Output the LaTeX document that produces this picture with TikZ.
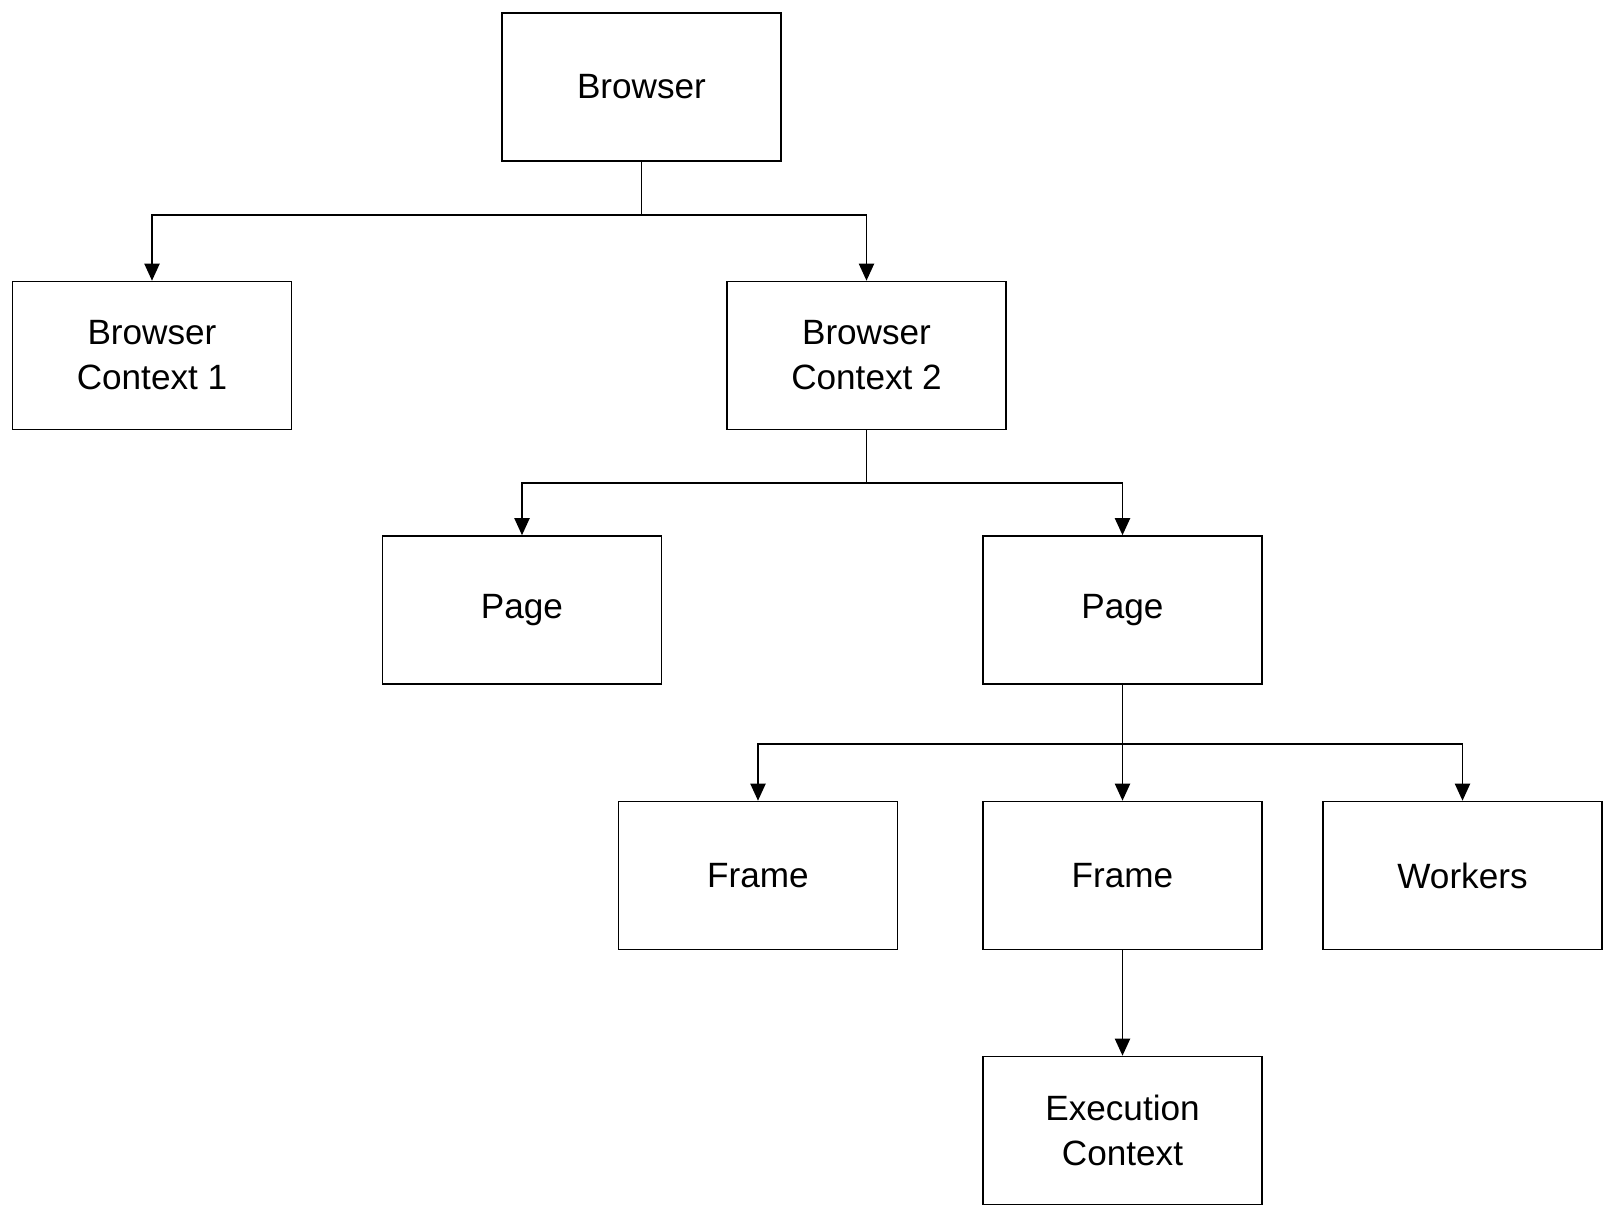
\documentclass[tikz,border=0pt]{standalone}
\usepackage{fontspec}
\setmainfont{Liberation Sans}
\usetikzlibrary{arrows.meta,positioning,calc}
\tikzset{box/.style={draw,line width=0.45pt,align=center,font=\fontsize{10}{12.8}\selectfont,minimum width=2.79cm,minimum height=1.48cm,inner sep=0pt},flow/.style={-{Triangle[width=1.5mm,length=1.7mm]},line width=0.55pt}}

\begin{document}
\begin{tikzpicture}
\useasboundingbox (0,0) rectangle (16.16,-12.23);
\foreach \n/\xx/\yy/\txt in {browser/6.415/-0.87/Browser,ctxa/1.52/-3.555/Browser\\Context 1,ctxb/8.665/-3.555/Browser\\Context 2,pagea/5.22/-6.10/Page,pageb/11.225/-6.10/Page,framea/7.58/-8.755/Frame,frameb/11.225/-8.755/Frame,workers/14.625/-8.755/Workers,exec/11.225/-11.305/Execution\\Context}{\node[box] (\n) at (\xx,\yy) {\txt};}
\draw[flow](browser.south)--++(0,-0.53)-|(ctxa.north);
\draw[flow](browser.south)--++(0,-0.53)-|(ctxb.north);
\draw[flow](ctxb.south)--++(0,-0.53)-|(pagea.north);
\draw[flow](ctxb.south)--++(0,-0.53)-|(pageb.north);
\draw[flow](pageb.south)--++(0,-0.59)-|(framea.north);
\draw[flow](pageb.south)--(frameb.north);
\draw[flow](pageb.south)--++(0,-0.59)-|(workers.north);
\draw[flow](frameb.south)--(exec.north);
\end{tikzpicture}
\end{document}
